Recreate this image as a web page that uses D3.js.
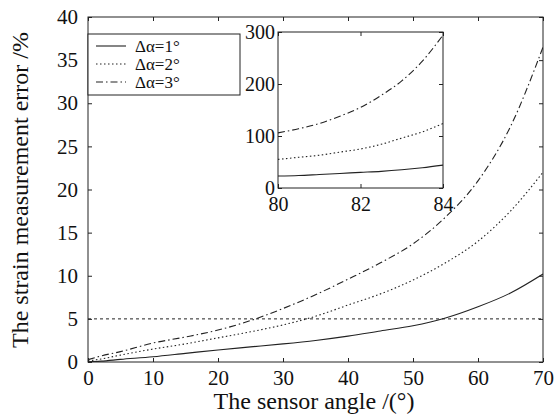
<!DOCTYPE html>
<html>
<head>
<meta charset="utf-8">
<script src="https://cdn.jsdelivr.net/npm/d3@7"></script>
<style>
  body { margin: 0; background: #fff; }
  #chart { position: relative; width: 560px; height: 418px; }
  .title { position: absolute; font-family: "Liberation Serif", serif; font-size: 24px; color: #111; white-space: nowrap; }
</style>
</head>
<body>
<div id="chart"></div>
<script>
// main plot: sensor angle (deg) vs strain error (%)
const angles = [0, 2, 5, 10, 15, 20, 25, 30, 35, 40, 45, 50, 55, 60, 65, 70];
const err1 = [0.03, 0.1, 0.3, 0.6, 1.0, 1.4, 1.75, 2.1, 2.5, 3.0, 3.6, 4.2, 5.1, 6.4, 8.0, 10.2];
const err2 = [0.12, 0.35, 0.8, 1.5, 2.1, 2.8, 3.5, 4.3, 5.3, 6.6, 7.9, 9.5, 11.5, 14.0, 17.5, 22.0];
const err3 = [0.27, 0.7, 1.2, 2.2, 2.9, 3.7, 4.8, 6.2, 7.8, 9.6, 11.5, 13.7, 16.8, 21.0, 27.3, 36.5];

// inset: 80..84 deg
const insetAngles = [80, 80.5, 81, 81.5, 82, 82.5, 83, 83.5, 84];
const inset1 = [23, 24, 26, 28, 30, 32, 35, 39, 44];
const inset2 = [55, 59, 63, 69, 75, 84, 96, 108, 124];
const inset3 = [106, 114, 124, 138, 155, 178, 206, 244, 294];

const xTicks = [0, 10, 20, 30, 40, 50, 60, 70];
const yTicks = [0, 5, 10, 15, 20, 25, 30, 35, 40];
const insetXTicks = [80, 82, 84];
const insetYTicks = [0, 100, 200, 300];
const legendLabels = ["1", "2", "3"];
const styles = ["none", "1.5,2.5", "7,3,1.5,3"];

const W = 560, H = 418;
const FONT = "Liberation Serif";
const svg = d3.select("#chart").append("svg").attr("width", W).attr("height", H)
  .attr("font-family", FONT);

const x = d3.scaleLinear().domain([0, 70]).range([88, 543]);
const y = d3.scaleLinear().domain([0, 40]).range([362, 17]);

const ink = "#222";

// frame
svg.append("rect").attr("x", 88).attr("y", 17).attr("width", 455).attr("height", 345)
  .attr("fill", "none").attr("stroke", ink).attr("stroke-width", 1);

// axes with inward ticks
function styleAxis(g, size) {
  g.select(".domain").remove();
  g.selectAll("text").style("font-family", "'Liberation Serif', serif", "important")
    .attr("font-size", size).attr("fill", "#111");
  g.selectAll(".tick line").attr("stroke", ink);
}
svg.append("g").attr("transform", "translate(0,362)")
  .call(d3.axisBottom(x).tickValues(xTicks).tickSizeInner(-4).tickSizeOuter(0).tickPadding(8))
  .call(styleAxis, 21);
svg.append("g").attr("transform", "translate(0,17)")
  .call(d3.axisTop(x).tickValues(xTicks).tickSizeInner(-4).tickSizeOuter(0).tickFormat(""))
  .call(styleAxis, 21);
svg.append("g").attr("transform", "translate(88,0)")
  .call(d3.axisLeft(y).tickValues(yTicks).tickSizeInner(-4).tickSizeOuter(0).tickPadding(10))
  .call(styleAxis, 21);
svg.append("g").attr("transform", "translate(543,0)")
  .call(d3.axisRight(y).tickValues(yTicks).tickSizeInner(-4).tickSizeOuter(0).tickFormat(""))
  .call(styleAxis, 21);

// 5% reference line
svg.append("line").attr("x1", x(0)).attr("x2", x(70)).attr("y1", y(5)).attr("y2", y(5))
  .attr("stroke", ink).attr("stroke-width", 1).attr("stroke-dasharray", "3,3");

svg.append("clipPath").attr("id", "clipMain").append("rect")
  .attr("x", 88).attr("y", 17).attr("width", 455).attr("height", 345);

const line = d3.line().x((d, i) => x(angles[i])).y(d => y(d)).curve(d3.curveMonotoneX);
[err1, err2, err3].forEach((s, k) => {
  svg.append("path").datum(s).attr("d", line).attr("fill", "none")
    .attr("stroke", ink).attr("stroke-width", 1.1).attr("stroke-dasharray", styles[k])
    .attr("clip-path", "url(#clipMain)");
});

// legend
const lg = svg.append("g");
lg.append("rect").attr("x", 88).attr("y", 34).attr("width", 152).attr("height", 61)
  .attr("fill", "#fff").attr("stroke", ink).attr("stroke-width", 1);
legendLabels.forEach((lab, k) => {
  const yy = 46 + k * 18;
  lg.append("line").attr("x1", 96).attr("x2", 126).attr("y1", yy).attr("y2", yy)
    .attr("stroke", ink).attr("stroke-width", 1.1).attr("stroke-dasharray", styles[k]);
  lg.append("text").attr("x", 135).attr("y", yy + 6)
    .style("font-family", "'Liberation Serif', serif", "important")
    .attr("font-size", 17).attr("fill", "#111")
    .text("Δα=" + lab + "°");
});

// inset
const xi = d3.scaleLinear().domain([80, 84]).range([278, 443]);
const yi = d3.scaleLinear().domain([0, 300]).range([188, 32]);
const ins = svg.append("g");
ins.append("rect").attr("x", 278).attr("y", 32).attr("width", 165).attr("height", 156)
  .attr("fill", "#fff").attr("stroke", ink).attr("stroke-width", 1);
ins.append("g").attr("transform", "translate(0,188)")
  .call(d3.axisBottom(xi).tickValues(insetXTicks).tickFormat(d3.format("d"))
    .tickSizeInner(-4).tickSizeOuter(0).tickPadding(9))
  .call(styleAxis, 20);
ins.append("g").attr("transform", "translate(0,32)")
  .call(d3.axisTop(xi).tickValues(insetXTicks).tickSizeInner(-4).tickSizeOuter(0).tickFormat(""))
  .call(styleAxis, 20);
ins.append("g").attr("transform", "translate(278,0)")
  .call(d3.axisLeft(yi).tickValues(insetYTicks).tickSizeInner(-4).tickSizeOuter(0).tickPadding(3))
  .call(styleAxis, 20);
ins.append("g").attr("transform", "translate(443,0)")
  .call(d3.axisRight(yi).tickValues(insetYTicks).tickSizeInner(-4).tickSizeOuter(0).tickFormat(""))
  .call(styleAxis, 20);

const iline = d3.line().x((d, i) => xi(insetAngles[i])).y(d => yi(d)).curve(d3.curveMonotoneX);
[inset1, inset2, inset3].forEach((s, k) => {
  ins.append("path").datum(s).attr("d", iline).attr("fill", "none")
    .attr("stroke", ink).attr("stroke-width", 1.1).attr("stroke-dasharray", styles[k]);
});

// axis titles (html overlay)
d3.select("#chart").append("div").attr("class", "title")
  .style("left", "314px").style("top", "388px").style("transform", "translateX(-50%)")
  .text("The sensor angle /(°)");
d3.select("#chart").append("div").attr("class", "title")
  .style("left", "20px").style("top", "190px")
  .style("transform", "translate(-50%,-50%) rotate(-90deg)")
  .text("The strain measurement error /%");
</script>
</body>
</html>
